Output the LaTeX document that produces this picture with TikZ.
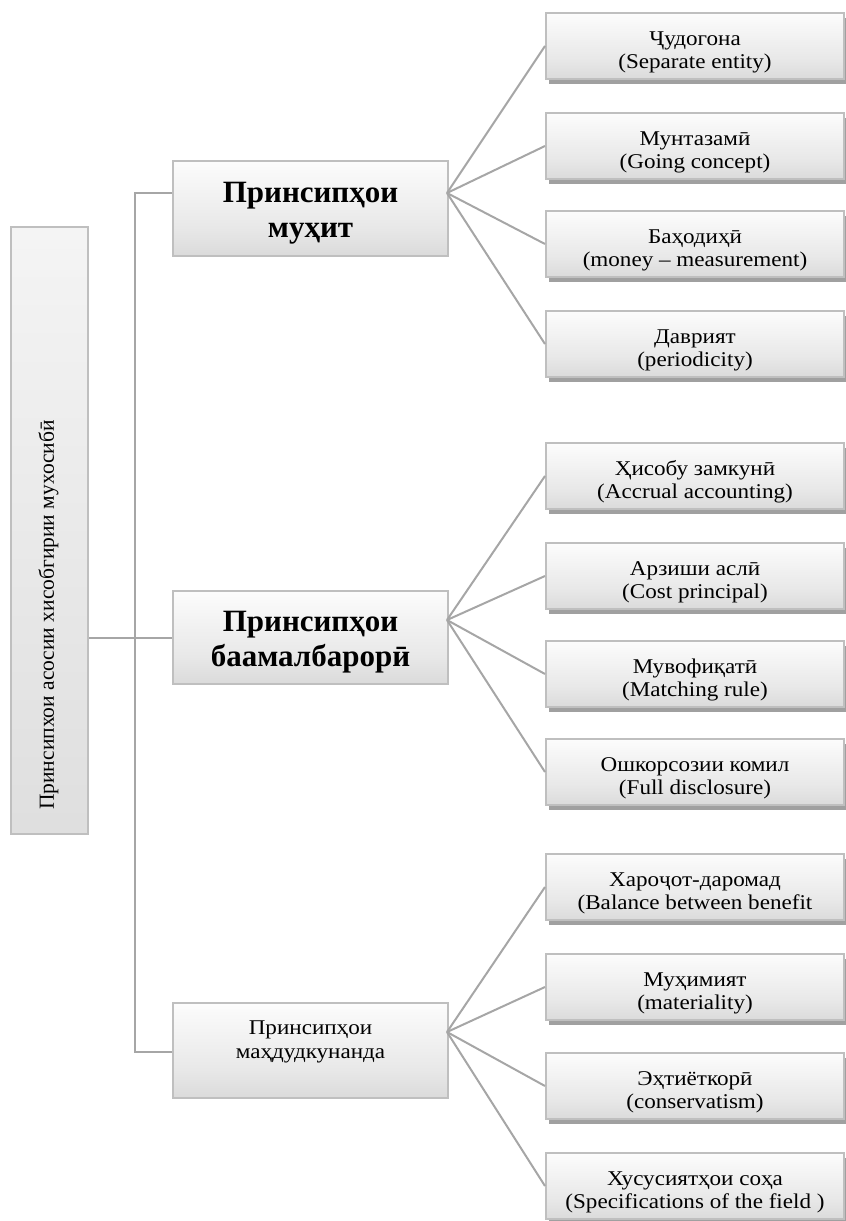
\documentclass[tikz,border=0pt]{standalone}
\usepackage{fontspec}
\setmainfont{Liberation Serif}
\newfontfamily\boxfont{Liberation Serif}[FakeStretch=1.1]
\usetikzlibrary{shadows}

\definecolor{edgegrey}{HTML}{BFBFBF}
\definecolor{wiregrey}{HTML}{A6A6A6}
\definecolor{shadowgrey}{HTML}{A0A0A0}
\definecolor{panelbottom}{HTML}{C4C4C4}
\definecolor{panelmid}{HTML}{E8E8E8}
\definecolor{tallbottom}{HTML}{D4D4D4}

% white at the top, grey towards the bottom
\pgfdeclareverticalshading{panelshade}{100bp}{color(0bp)=(panelbottom); color(40bp)=(panelmid); color(80bp)=(white); color(100bp)=(white)}
\pgfdeclareverticalshading{tallshade}{100bp}{color(0bp)=(tallbottom); color(100bp)=(white)}

\tikzset{
  panel/.style={rectangle, draw=edgegrey, line width=2pt, shade, shading=panelshade,
                inner sep=0pt, anchor=north west, align=center},
  leaf/.style={panel, minimum width=298pt, minimum height=66pt,
               text height=44pt, text depth=0pt,
               font=\boxfont\fontsize{21}{22.5}\selectfont,
               drop shadow={shadow xshift=3pt, shadow yshift=-5pt, fill=shadowgrey, opacity=1}},
  hub/.style={panel, minimum width=275pt},
  bighub/.style={hub, font=\bfseries\fontsize{31}{35}\selectfont, text depth=0pt},
  link/.style={draw=wiregrey, line width=2pt},
}

\begin{document}
\begin{tikzpicture}[x=1pt,y=-1pt]
\useasboundingbox (0,0) rectangle (846,1221);

% root column
\node[panel, shading=tallshade, minimum width=77pt, minimum height=607pt] (root) at (10,226) {};
\coordinate (rootfoot) at (48.5,810);
\node[rotate=90, anchor=west, inner sep=0pt, font=\fontsize{21.5}{22}\selectfont] (rootlabel) at (rootfoot) {Принсипхои асосии хисобгирии мухосибӣ};

% second level
\node[bighub, minimum height=95pt, text height=58pt] (m1) at (172,160) {Принсипҳои\\муҳит};
\node[bighub, minimum height=93pt, text height=57pt] (m2) at (172,590) {Принсипҳои\\баамалбарорӣ};
\node[hub, minimum height=95pt, text height=15pt, text depth=0pt,
      font=\boxfont\fontsize{21}{24}\selectfont] (m3) at (172,1002) {Принсипҳои\\маҳдудкунанда};

% third level
\node[leaf] (a1) at (545,12)  {Ҷудогона\\(Separate entity)};
\node[leaf] (a2) at (545,112) {Мунтазамӣ\\(Going concept)};
\node[leaf] (a3) at (545,210) {Баҳодиҳӣ\\(money – measurement)};
\node[leaf] (a4) at (545,310) {Даврият\\(periodicity)};

\node[leaf] (b1) at (545,442) {Ҳисобу замкунӣ\\(Accrual accounting)};
\node[leaf] (b2) at (545,542) {Арзиши аслӣ\\(Cost principal)};
\node[leaf] (b3) at (545,640) {Мувофиқатӣ\\(Matching rule)};
\node[leaf] (b4) at (545,738) {Ошкорсозии комил\\(Full disclosure)};

\node[leaf] (c1) at (545,853)  {Хароҷот-даромад\\(Balance between benefit};
\node[leaf] (c2) at (545,953)  {Муҳимият\\(materiality)};
\node[leaf] (c3) at (545,1052) {Эҳтиёткорӣ\\(conservatism)};
\node[leaf] (c4) at (545,1152) {Хусусиятҳои соҳа\\(Specifications of the field )};

% attachment points on the second-level boxes
\coordinate (m1in) at (172,193);
\coordinate (m2in) at (172,638);
\coordinate (m3in) at (172,1052);
\coordinate (m1out) at (447,193);
\coordinate (m2out) at (447,620);
\coordinate (m3out) at (447,1032);
\coordinate (trunktop) at (135,193);
\coordinate (trunkbot) at (135,1052);

% trunk and branches
\draw[link] (m1in) -- (trunktop) -- (trunkbot) -- (m3in);
\draw[link] (root.east |- m2in) -- (m2in);

\foreach \t in {a1,a2,a3,a4} \draw[link] (m1out) -- (\t.west);
\foreach \t in {b1,b2,b3,b4} \draw[link] (m2out) -- (\t.west);
\foreach \t in {c1,c2,c3,c4} \draw[link] (m3out) -- (\t.west);
\end{tikzpicture}
\end{document}
